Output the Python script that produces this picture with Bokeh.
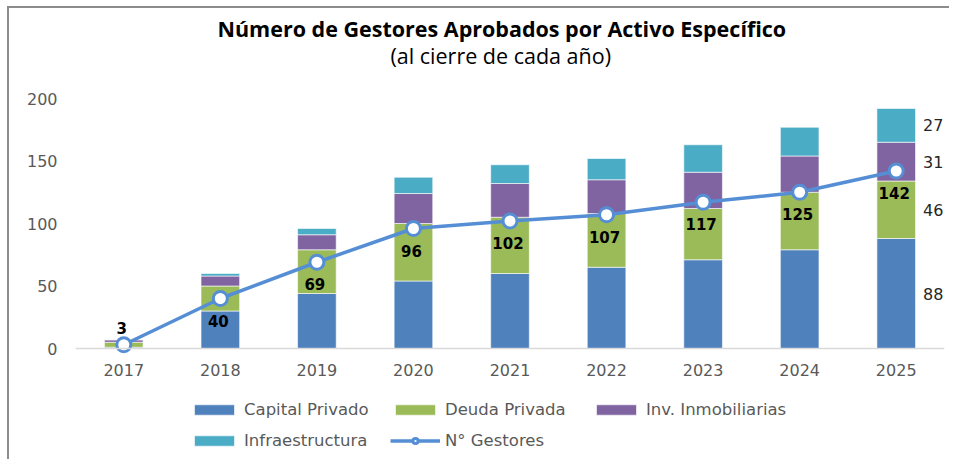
from bokeh.plotting import figure
from bokeh.models import (ColumnDataSource, FactorRange, Range1d, FixedTicker, Title,
                          Legend, LegendItem, LabelSet)
from bokeh.core.properties import value
from bokeh.embed import file_html
from bokeh.resources import INLINE

# ---- data ----
years = ["2017", "2018", "2019", "2020", "2021", "2022", "2023", "2024", "2025"]
capital = [1, 30, 44, 54, 60, 65, 71, 79, 88]
deuda = [4, 20, 35, 46, 45, 43, 41, 46, 46]
inmob = [2, 8, 12, 24, 27, 27, 29, 29, 31]
infra = [0, 2, 5, 13, 15, 17, 22, 23, 27]
gestores = [3, 40, 69, 96, 102, 107, 117, 125, 142]
series_names = ["Capital Privado", "Deuda Privada", "Inv. Inmobiliarias", "Infraestructura"]
line_name = "N° Gestores"
y_ticks = [0, 50, 100, 150, 200]

colors = ["#4F81BD", "#9BBB59", "#8064A2", "#4BACC6"]
line_color = "#558ED5"

src = ColumnDataSource(dict(
    year=years, capital=capital, deuda=deuda, inmob=inmob, infra=infra,
    gestores=gestores, glabel=[str(g) for g in gestores],
    gdy=[17 if i == 0 else -22 for i in range(len(years))],
))

# frame spans the whole lower area; the x axis is pinned at y = 0
p = figure(x_range=FactorRange(factors=years), y_range=Range1d(-90.4, 214.4),
           width=942, height=453, output_backend="svg", toolbar_location=None,
           title=None, min_border_left=66, min_border_right=7,
           min_border_top=72, min_border_bottom=0)
p.styles = {"border-top": "2px solid #8c8c8c", "border-left": "2px solid #8c8c8c",
            "margin-left": "7px", "margin-top": "6px"}
p.outline_line_color = None
p.xgrid.grid_line_color = None
p.ygrid.grid_line_color = None

stack = p.vbar_stack(["capital", "deuda", "inmob", "infra"], x="year", width=0.4,
                     color=colors, line_color="white", line_width=0.6, source=src)
ln = p.line("year", "gestores", source=src, line_color=line_color, line_width=3.5)
sc = p.scatter("year", "gestores", source=src, size=14, fill_color="white",
               line_color=line_color, line_width=3)

labels = LabelSet(x="year", y="gestores", text="glabel", source=src,
                  x_offset=-2, y_offset="gdy", text_align="center",
                  text_baseline="middle", text_font=value("DejaVu Sans"),
                  text_font_size=value("15px"), text_font_style=value("bold"),
                  text_color="black")
p.add_layout(labels)

# labels to the right of the last bar
last_vals = [capital[-1], deuda[-1], inmob[-1], infra[-1]]
mids = []
acc = 0
for v in last_vals:
    mids.append(acc + v / 2)
    acc += v
rsrc = ColumnDataSource(dict(x=[years[-1]] * 4, y=mids, t=[str(v) for v in last_vals]))
rlabels = LabelSet(x="x", y="y", text="t", source=rsrc, x_offset=37,
                   text_align="center", text_baseline="middle",
                   text_font=value("DejaVu Sans"), text_font_size=value("16px"),
                   text_color="#262626")
p.add_layout(rlabels)

# axes
p.xaxis.fixed_location = 0
p.xaxis.major_label_text_font = "DejaVu Sans"
p.xaxis.major_label_text_font_size = "16px"
p.xaxis.major_label_text_color = "#595959"
p.xaxis.axis_line_color = "#D9D9D9"
p.xaxis.axis_line_width = 1.5
p.xaxis.major_tick_line_color = None
p.xaxis.minor_tick_line_color = None
p.xaxis.major_label_standoff = 9

p.yaxis.ticker = FixedTicker(ticks=y_ticks)
p.yaxis.major_label_text_font = "DejaVu Sans"
p.yaxis.major_label_text_font_size = "16px"
p.yaxis.major_label_text_color = "#595959"
p.yaxis.axis_line_color = None
p.yaxis.major_tick_line_color = None
p.yaxis.minor_tick_line_color = None
p.yaxis.major_label_standoff = 12

# titles
sub = Title(text="(al cierre de cada año)", align="left", text_font="Open Sans",
            text_font_size="21.5px", text_font_style="normal", text_color="black",
            offset=315, standoff=22)
main = Title(text="Número de Gestores Aprobados por Activo Específico", align="left",
             text_font="Open Sans", text_font_size="21.5px", text_font_style="bold",
             text_color="black", offset=142, standoff=-30)
p.add_layout(sub, "above")
p.add_layout(main, "above")

# legend (items ordered so that the column-wise fill reads row by row)
items = [LegendItem(label=n, renderers=[r]) for n, r in zip(series_names, stack)]
items.append(LegendItem(label=line_name, renderers=[ln, sc]))
ordered = [items[0], items[3], items[1], items[4], items[2]]
legend = Legend(items=ordered, ncols=3, location=(114, 5), glyph_width=50, glyph_height=13,
                label_standoff=5, label_width=146, label_height=31, spacing=0,
                padding=0, margin=0, border_line_color=None, background_fill_alpha=0,
                label_text_font="DejaVu Sans", label_text_font_size="16.5px",
                label_text_color="#595959")
p.add_layout(legend)

open("out.html", "w").write(file_html(p, INLINE))
